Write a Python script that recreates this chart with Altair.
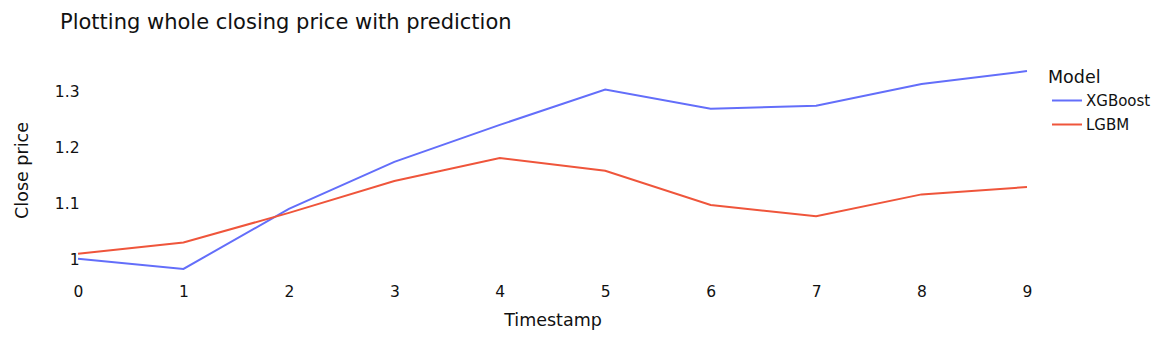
import altair as alt
import pandas as pd

timestamps = list(range(10))
xgboost = [1.002, 0.984, 1.091, 1.175, 1.241, 1.304, 1.270, 1.275, 1.314, 1.337]
lgbm = [1.011, 1.031, 1.084, 1.141, 1.182, 1.159, 1.098, 1.078, 1.117, 1.130]
models = ["XGBoost", "LGBM"]
colors = ["#636efa", "#EF553B"]
y_ticks = [1, 1.1, 1.2, 1.3]

df = pd.DataFrame({
    "Timestamp": timestamps * 2,
    "Close price": xgboost + lgbm,
    "Model": ["XGBoost"] * len(xgboost) + ["LGBM"] * len(lgbm),
})

FONT = "DejaVu Sans"
TXT = "#111"

chart = alt.Chart(df).mark_line(strokeWidth=2).encode(
    x=alt.X("Timestamp:Q",
            scale=alt.Scale(domain=[0, 9], nice=False, zero=False),
            axis=alt.Axis(values=timestamps, title="Timestamp", grid=False, domain=False,
                          ticks=False, tickSize=0, labelPadding=5, labelFontSize=15.5,
                          labelFlush=False, labelOverlap=False,
                          labelFont=FONT, labelColor=TXT, titleFont=FONT, titleFontSize=17.5,
                          titleFontWeight="normal", titleColor=TXT, titlePadding=12)),
    y=alt.Y("Close price:Q",
            scale=alt.Scale(domain=[0.966, 1.355], nice=False, zero=False),
            axis=alt.Axis(values=y_ticks, format="~g", title="Close price", grid=False,
                          domain=False, ticks=False, tickSize=0, labelPadding=-1,
                          labelFlush=False,
                          labelFontSize=15.5, labelFont=FONT, labelColor=TXT,
                          titleFont=FONT, titleFontSize=17.5, titleFontWeight="normal",
                          titleColor=TXT, titlePadding=23)),
    color=alt.Color("Model:N", scale=alt.Scale(domain=models, range=colors),
                    legend=alt.Legend(title="Model", orient="none", legendX=970, legendY=8,
                                      symbolType="stroke", symbolSize=900, symbolStrokeWidth=2,
                                      symbolOffset=3, labelOffset=3,
                                      labelFontSize=15, labelFont=FONT, labelColor=TXT,
                                      titleFontSize=17.5, titleFont=FONT, titleFontWeight="normal",
                                      titleColor=TXT, titlePadding=-2, padding=0, rowPadding=-11)),
).properties(
    width=949,
    height=218,
    title=alt.TitleParams("Plotting whole closing price with prediction", anchor="start",
                          frame="group", dx=-18, offset=28, fontSize=21, font=FONT,
                          fontWeight="normal", color=TXT),
    autosize=alt.AutoSizeParams(type="none"),
    padding={"left": 70, "top": 53, "right": 126, "bottom": 60},
).configure_view(stroke=None)

chart.save("out.html", embed_options={"renderer": "svg", "actions": False})
